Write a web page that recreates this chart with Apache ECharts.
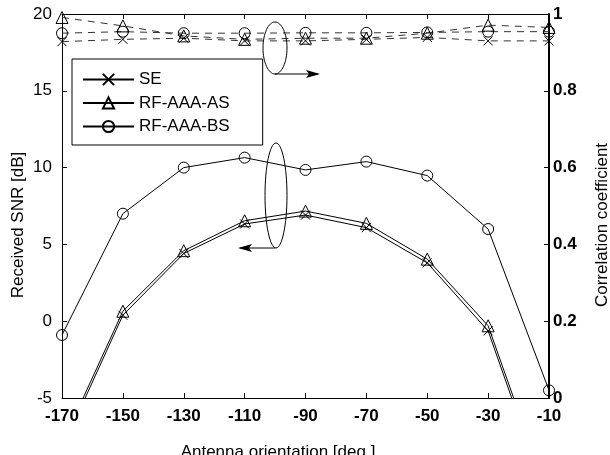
<!DOCTYPE html>
<html><head><meta charset="utf-8">
<script src="https://cdn.jsdelivr.net/npm/echarts@6/dist/echarts.min.js"></script>
<style>html,body{margin:0;padding:0;background:#fff}#c{width:610px;height:455px}</style>
</head><body><div id="c"></div>
<script>
// ---- data ----
const orientations = ['-170', '-150', '-130', '-110', '-90', '-70', '-50', '-30', '-10'];
const snrSE = [-8.3, 0.39, 4.41, 6.33, 6.91, 6.09, 3.80, -0.63, -11.9];
const snrAS = [-8.0, 0.65, 4.59, 6.54, 7.17, 6.37, 4.04, -0.30, -11.5];
const snrBS = [-0.9, 7.00, 10.0, 10.65, 9.85, 10.39, 9.48, 6.00, -4.5];
const corrSE = [0.928, 0.934, 0.937, 0.930, 0.930, 0.934, 0.939, 0.930, 0.930];
const corrAS = [0.991, 0.969, 0.943, 0.934, 0.937, 0.937, 0.950, 0.971, 0.965];
const corrBS = [0.950, 0.954, 0.950, 0.950, 0.951, 0.951, 0.952, 0.954, 0.954];
const snrTicks = [-5, 20, 5];      // min, max, step
const corrTicks = [0, 1, 0.2];     // min, max, step
const legendNames = ['SE', 'RF-AAA-AS', 'RF-AAA-BS'];

// ---- chart ----
const F = '"Liberation Sans", Arial, Helvetica, sans-serif';
const xMark = 'path://M0,0L10,10M10,0L0,10';
const symbols = [[xMark, 9], ['triangle', 12], ['circle', 11]];

function mk(name, data, yIdx, sym, dashed) {
  return {
    type: 'line', name: name, data: data, xAxisIndex: 0, yAxisIndex: yIdx,
    symbol: sym[0], symbolSize: sym[1], showAllSymbol: true, clip: true,
    lineStyle: { color: dashed ? '#333' : '#000', width: 1, type: dashed ? [7, 6] : 'solid' },
    itemStyle: { color: 'rgba(0,0,0,0)', borderColor: '#000', borderWidth: 1 },
    emphasis: { disabled: true }, silent: true
  };
}

const series = [
  mk(legendNames[0], snrSE, 0, symbols[0], false),
  mk(legendNames[1], snrAS, 0, symbols[1], false),
  mk(legendNames[2], snrBS, 0, symbols[2], false),
  mk('SE corr', corrSE, 1, symbols[0], true),
  mk('AS corr', corrAS, 1, symbols[1], true),
  mk('BS corr', corrBS, 1, symbols[2], true)
];

const chart = echarts.init(document.getElementById('c'), null, { renderer: 'canvas' });
const axisLineBlack = { show: true, onZero: false, lineStyle: { color: '#000', width: 1 } };
chart.setOption({
  animation: false,
  backgroundColor: '#fff',
  textStyle: { fontFamily: F },
  grid: { left: 62, right: 61, top: 14, bottom: 57, containLabel: false },
  legend: {
    data: legendNames, orient: 'vertical', left: 72, top: 59,
    padding: [12, 33, 10, 10], itemGap: 6.5, itemWidth: 51, itemHeight: 14,
    backgroundColor: '#fff', borderColor: '#000', borderWidth: 1, borderRadius: 0,
    textStyle: { fontFamily: F, fontSize: 17, color: '#000' }, selectedMode: false
  },
  xAxis: [
    { type: 'category', data: orientations, boundaryGap: false, position: 'bottom',
      axisLine: axisLineBlack, axisTick: { show: true, inside: true, length: 5, lineStyle: { color: '#000' } },
      axisLabel: { interval: 0, color: '#000', fontWeight: 'bold', fontSize: 17, fontFamily: F, margin: 10 },
      splitLine: { show: false } },
    { type: 'category', data: orientations, boundaryGap: false, position: 'top',
      axisLine: axisLineBlack, axisTick: { show: true, inside: true, length: 5, lineStyle: { color: '#000' } },
      axisLabel: { show: false }, splitLine: { show: false } }
  ],
  yAxis: [
    { type: 'value', min: snrTicks[0], max: snrTicks[1], interval: snrTicks[2], position: 'left',
      axisLine: axisLineBlack, axisTick: { show: true, inside: true, length: 5, lineStyle: { color: '#000' } },
      axisLabel: { color: '#000', fontSize: 17, fontFamily: F, margin: 10 }, splitLine: { show: false } },
    { type: 'value', min: corrTicks[0], max: corrTicks[1], interval: corrTicks[2], position: 'right',
      axisLine: { show: true, onZero: false, lineStyle: { color: '#000', width: 2 } },
      axisTick: { show: true, inside: true, length: 5, lineStyle: { color: '#000' } },
      axisLabel: { color: '#000', fontSize: 17, fontWeight: 'bold', fontFamily: F, margin: 4 }, splitLine: { show: false } }
  ],
  series: series,
  graphic: [
    { type: 'text', x: 18, y: 225, rotation: Math.PI / 2,
      style: { text: 'Received SNR [dB]', font: '17px ' + F, fill: '#000', textAlign: 'center', textVerticalAlign: 'middle' } },
    { type: 'text', x: 602, y: 225, rotation: Math.PI / 2,
      style: { text: 'Correlation coefficient', font: '17px ' + F, fill: '#000', textAlign: 'center', textVerticalAlign: 'middle' } },
    { type: 'text', x: 278, y: 444,
      style: { text: 'Antenna orientation [deg.]', font: '17px ' + F, fill: '#000', textAlign: 'center', textVerticalAlign: 'top' } },
    // annotation ellipses and arrows
    { type: 'ellipse', shape: { cx: 275, cy: 48, rx: 12, ry: 26 }, style: { fill: 'none', stroke: '#000', lineWidth: 1 }, z: 100 },
    { type: 'polyline', shape: { points: [[275, 74], [318, 74]] }, style: { stroke: '#000', lineWidth: 1 }, z: 100 },
    { type: 'polygon', shape: { points: [[320, 74], [306, 70], [309, 74], [306, 78]] }, style: { fill: '#000' }, z: 100 },
    { type: 'ellipse', shape: { cx: 276, cy: 195.5, rx: 11, ry: 52.5 }, style: { fill: 'none', stroke: '#000', lineWidth: 1 }, z: 100 },
    { type: 'polyline', shape: { points: [[275, 248], [240, 248]] }, style: { stroke: '#000', lineWidth: 1 }, z: 100 },
    { type: 'polygon', shape: { points: [[238, 248], [252, 244], [249, 248], [252, 252]] }, style: { fill: '#000' }, z: 100 }
  ]
});
</script>
</body></html>
